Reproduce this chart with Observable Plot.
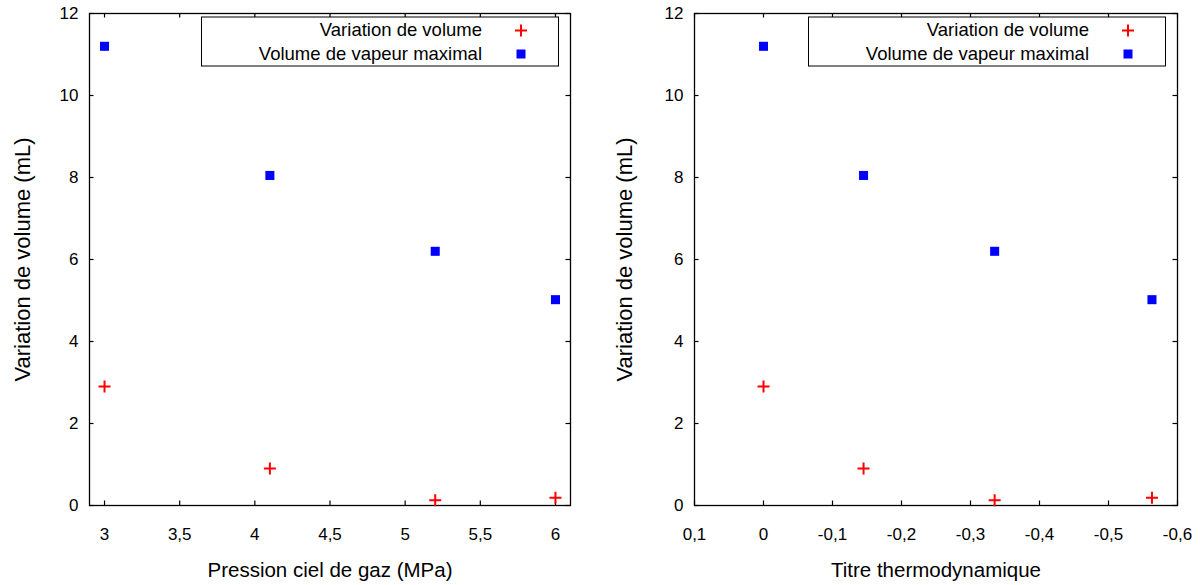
<!DOCTYPE html>
<html><head><meta charset="utf-8">
<script src="https://cdn.jsdelivr.net/npm/d3@7"></script>
<script src="https://cdn.jsdelivr.net/npm/@observablehq/plot@0.6"></script>
<style>
html,body{margin:0;padding:0;background:#fff;}
#wrap{display:flex;width:1200px;height:585px;}
#wrap > div{width:600px;height:585px;}
svg{display:block;}
</style></head><body><div id="wrap"><div id="left"></div><div id="right"></div></div>
<script>
const seriesNames = ["Variation de volume", "Volume de vapeur maximal"];
const seriesColors = ["#ff0000", "#0000ff"];
const pression = [3.0, 4.1, 5.2, 6.0];
const titre = [0.0, -0.145, -0.335, -0.563];
const variationVolume = [2.9, 0.9, 0.13, 0.19];
const volumeVapeurMax = [11.2, 8.05, 6.2, 5.02];
const yTicks = [0, 2, 4, 6, 8, 10, 12];
const xTicksLeft = [3, 3.5, 4, 4.5, 5, 5.5, 6];
const xTicksRight = [0.1, 0, -0.1, -0.2, -0.3, -0.4, -0.5, -0.6];
const xLabelLeft = "Pression ciel de gaz (MPa)";
const xLabelRight = "Titre thermodynamique";
const yLabel = "Variation de volume (mL)";

const FONT = "'Liberation Sans', Arial, Helvetica, sans-serif";
const W = 600, H = 585;
const fmt = d => String(d).replace(".", ",");

const plusSymbol = {
  draw(ctx, size) {
    const r = Math.sqrt(size / Math.PI);
    ctx.moveTo(-r, 0); ctx.lineTo(r, 0);
    ctx.moveTo(0, -r); ctx.lineTo(0, r);
  }
};

function panel({xs, xDomain, xTicks, xLabel, mL, mR, yTitleDx}) {
  const mT = 13, mB = 80;
  const frameH = H - mT - mB, frameW = W - mL - mR;
  const tick = 4.5;
  const red = xs.map((x, i) => ({x, y: variationVolume[i]}));
  const blue = xs.map((x, i) => ({x, y: volumeVapeurMax[i]}));
  const chart = Plot.plot({
    width: W, height: H,
    marginLeft: mL, marginRight: mR, marginTop: mT, marginBottom: mB,
    style: {fontFamily: FONT, color: "#000", background: "#fff"},
    x: {domain: xDomain, label: null},
    y: {domain: [0, 12], label: null},
    marks: [
      Plot.axisX(xTicks, {tickSize: 0, tickPadding: 22, tickFormat: fmt, fontSize: 17, label: null}),
      Plot.axisY(yTicks, {tickSize: 0, tickPadding: 11, tickFormat: fmt, fontSize: 17, label: null}),
      Plot.tickX(xTicks, {x: d => d, insetTop: frameH - tick, stroke: "#000", strokeWidth: 1.2}),
      Plot.tickX(xTicks, {x: d => d, insetBottom: frameH - tick, stroke: "#000", strokeWidth: 1.2}),
      Plot.tickY(yTicks, {y: d => d, insetRight: frameW - tick, stroke: "#000", strokeWidth: 1.2}),
      Plot.tickY(yTicks, {y: d => d, insetLeft: frameW - tick, stroke: "#000", strokeWidth: 1.2}),
      Plot.frame({stroke: "#000", strokeWidth: 1.3}),
      Plot.text([xLabel], {frameAnchor: "bottom", dy: 65, text: d => d, fontSize: 20.5, fill: "#000", textAnchor: "middle", lineAnchor: "middle"}),
      Plot.text([yLabel], {frameAnchor: "left", dx: yTitleDx, rotate: -90, text: d => d, fontSize: 22, fill: "#000", textAnchor: "middle", lineAnchor: "middle"}),
      Plot.dot(red, {x: "x", y: "y", symbol: plusSymbol, r: 6, stroke: seriesColors[0], strokeWidth: 2, fill: "none"}),
      Plot.dot(blue, {x: "x", y: "y", symbol: "square", r: 5.1, fill: seriesColors[1], stroke: "none"})
    ]
  });
  // legend (top-right, inside frame)
  const svg = d3.select(chart);
  const fr = W - mR;
  const g = svg.append("g").attr("font-family", FONT).attr("font-size", 18.5);
  g.append("rect").attr("x", fr - 11.5 - 357).attr("y", 17).attr("width", 357).attr("height", 49)
    .attr("fill", "#fff").attr("stroke", "#000").attr("stroke-width", 1);
  const rows = [30.5, 54];
  seriesNames.forEach((name, i) => {
    g.append("text").attr("x", fr - 88).attr("y", rows[i]).attr("dy", "0.32em")
      .attr("text-anchor", "end").attr("fill", "#000").text(name);
    const cx = fr - 49, cy = rows[i];
    if (i === 0) {
      g.append("path").attr("d", `M${cx - 6},${cy}H${cx + 6}M${cx},${cy - 6}V${cy + 6}`)
        .attr("stroke", seriesColors[0]).attr("stroke-width", 2).attr("fill", "none");
    } else {
      g.append("rect").attr("x", cx - 4.5).attr("y", cy - 4.5).attr("width", 9).attr("height", 9)
        .attr("fill", seriesColors[1]);
    }
  });
  return chart;
}

document.getElementById("left").append(panel({
  xs: pression, xDomain: [2.9, 6.1], xTicks: xTicksLeft, xLabel: xLabelLeft, mL: 89, mR: 30, yTitleDx: -67
}));
document.getElementById("right").append(panel({
  xs: titre, xDomain: [0.1, -0.6], xTicks: xTicksRight, xLabel: xLabelRight, mL: 94, mR: 23, yTitleDx: -70
}));
</script></body></html>
